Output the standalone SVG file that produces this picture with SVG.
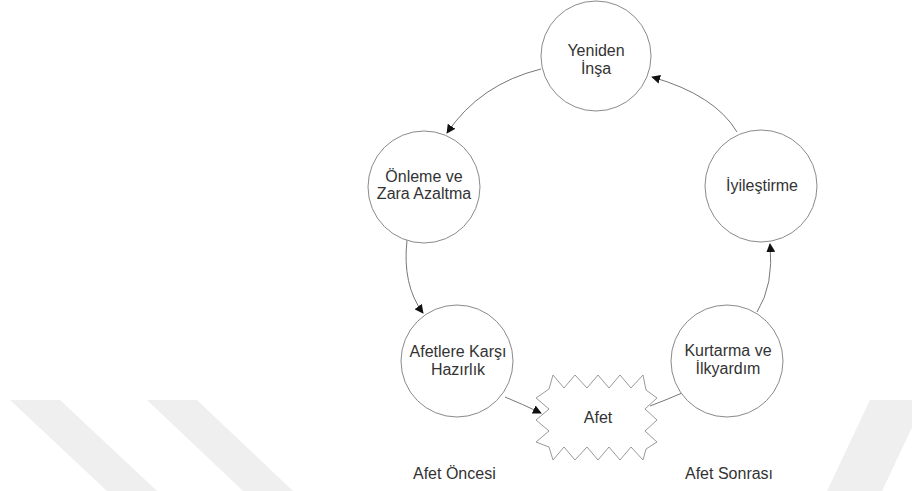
<svg xmlns="http://www.w3.org/2000/svg" width="912" height="491" viewBox="0 0 912 491">
  <style>
    .node circle { fill: #ffffff; stroke: #8a8a8a; stroke-width: 1; }
    .star { fill: #ffffff; stroke: #9a9a9a; stroke-width: 1; }
    .lbl { font-family: "Liberation Sans", Arial, sans-serif; font-size: 16px; fill: #333333; text-anchor: middle; }
    .cap { font-family: "Liberation Sans", Arial, sans-serif; font-size: 16px; fill: #333333; }
    .edge { fill: none; stroke: #777777; stroke-width: 1; }
    .band { fill: #efefef; }
  </style>
  <defs>
    <marker id="arrow" viewBox="0 0 10 10" refX="9" refY="5" markerWidth="9" markerHeight="9" markerUnits="userSpaceOnUse" orient="auto">
      <path d="M0,0 L10,5 L0,10 Z" fill="#111111"/>
    </marker>
  </defs>
  <rect width="912" height="491" fill="#ffffff"/>

  <!-- background bands -->
  <g id="bands">
    <polygon class="band" points="10,400 60,400 157,491 107,491"/>
    <polygon class="band" points="147,400 197,400 293,491 243,491"/>
    <polygon class="band" points="870,400 925,400 882,491 827,491"/>
  </g>

  <!-- connectors -->
  <g id="connectors">
    <path class="edge" d="M541,69 Q480,84 447,133" marker-end="url(#arrow)"/>
    <path class="edge" d="M407,240 Q402,285 423,313" marker-end="url(#arrow)"/>
    <path class="edge" d="M505,397 Q522,404 541,413" marker-end="url(#arrow)"/>
    <path class="edge" d="M682,393 Q666,400 650,406"/>
    <path class="edge" d="M757,312 Q774,285 770,244" marker-end="url(#arrow)"/>
    <path class="edge" d="M737,132 Q715,95 652,77" marker-end="url(#arrow)"/>
  </g>

  <g id="yeniden-insa" class="node">
    <circle cx="596" cy="56" r="55"/>
    <text class="lbl" x="596" y="56">Yeniden</text>
    <text class="lbl" x="596" y="74">İnşa</text>
  </g>

  <g id="onleme" class="node">
    <circle cx="424" cy="187" r="56"/>
    <text class="lbl" x="424" y="182">Önleme ve</text>
    <text class="lbl" x="424" y="199">Zara Azaltma</text>
  </g>

  <g id="iyilestirme" class="node">
    <circle cx="761" cy="186" r="56"/>
    <text class="lbl" x="762" y="191">İyileştirme</text>
  </g>

  <g id="hazirlik" class="node">
    <circle cx="457" cy="361" r="56"/>
    <text class="lbl" x="458" y="357">Afetlere Karşı</text>
    <text class="lbl" x="458" y="375">Hazırlık</text>
  </g>

  <g id="kurtarma" class="node">
    <circle cx="727" cy="361" r="56"/>
    <text class="lbl" x="728" y="356">Kurtarma ve</text>
    <text class="lbl" x="728" y="374">İlkyardım</text>
  </g>

  <g id="afet" class="node">
    <polygon class="star" points="553,375 564,388 575,375 587,388 598,375 609,388 620,375 631,388 643,375 646,390 657,398 645,409 657,420 645,431 657,442 646,449 643,460 631,447 620,460 609,447 598,460 587,447 575,460 564,447 553,460 549,447 536,442 549,431 536,420 549,409 536,398 549,389"/>
    <text class="lbl" x="598" y="423">Afet</text>
  </g>

  <g id="phases">
    <text class="cap" x="413" y="479">Afet Öncesi</text>
    <text class="cap" x="685" y="479">Afet Sonrası</text>
  </g>
</svg>
